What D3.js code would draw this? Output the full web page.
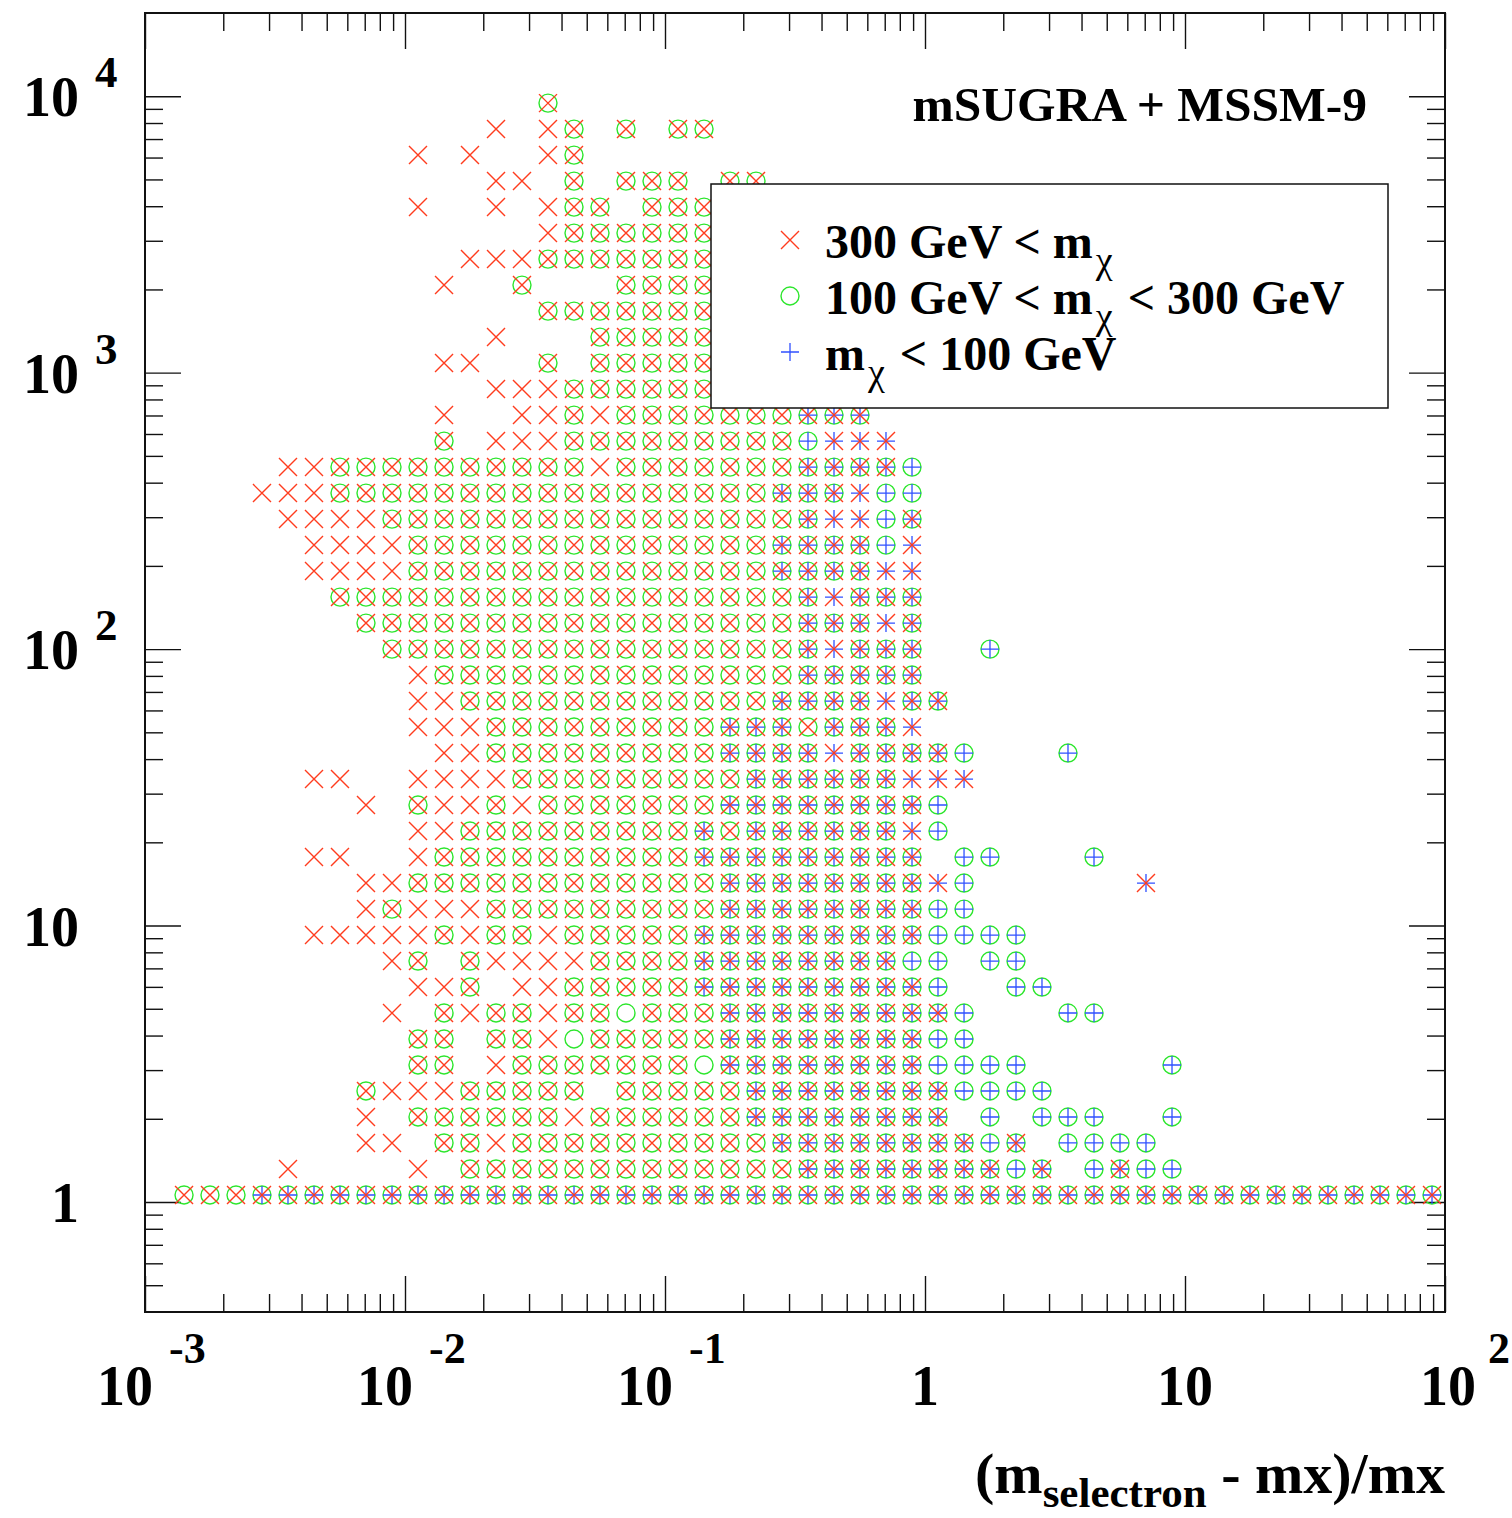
<!DOCTYPE html>
<html>
<head>
<meta charset="utf-8">
<script src="https://d3js.org/d3.v7.min.js"></script>
<style>
  body { margin: 0; background: #fff; }
  svg text { font-family: "Liberation Serif", "Times New Roman", serif; font-weight: bold; fill: #000; }
  .axis .tick line { stroke: #111; stroke-width: 1.4; }
  .axis .domain { display: none; }
</style>
</head>
<body>
<svg id="chart" width="1512" height="1518"></svg>
<script>
// bin centres of the scan (x: relative mass splitting, y: boost factor)
var xBins = [0.001413, 0.001778, 0.002239, 0.002818, 0.003548, 0.004467, 0.005623, 0.007079, 0.008913,
  0.01122, 0.01413, 0.01778, 0.02239, 0.02818, 0.03548, 0.04467, 0.05623, 0.07079, 0.08913,
  0.1122, 0.1413, 0.1778, 0.2239, 0.2818, 0.3548, 0.4467, 0.5623, 0.7079, 0.8913,
  1.122, 1.413, 1.778, 2.239, 2.818, 3.548, 4.467, 5.623, 7.079, 8.913,
  11.22, 14.13, 17.78, 22.39, 28.18, 35.48, 44.67, 56.23, 70.79, 89.13];
var yBins = [1.060, 1.316, 1.635, 2.030, 2.521, 3.130, 3.887, 4.827, 5.993, 7.441,
  9.241, 11.47, 14.25, 17.69, 21.97, 27.29, 33.88, 42.07, 52.24, 64.88,
  80.56, 100.0, 124.2, 154.2, 191.5, 237.8, 295.3, 366.7, 455.4, 565.6,
  702.3, 872.1, 1083, 1345, 1670, 2074, 2575, 3198, 3971, 4932,
  6124, 7604, 9441];

// one string per y bin, top row first, one char per x bin (spaces every 10 bins)
// x: m>300  o: 100<m<300  +: m<100  X: x+o  *: x++  O: o++  #: all three
var rows = [
  ".......... ....X",
  ".......... ..x.xX.X.X X",
  ".........x .x..xX",
  ".......... ..xx.X.XXX .XX",
  ".........x ..x.xXX.XX X",
  ".......... ....xXXXXX X",
  ".......... .xxxXXXXXX X",
  ".......... x..X...XXX X",
  ".......... ....XXXXXX X",
  ".......... ..x...XXXX X",
  ".......... xx..X.XXXX X",
  ".......... ..xxxXXXXX X",
  ".......... x..xxXxXXX XXXX###",
  ".......... X.xxxXXXXX XXXXO***",
  "....xxXXXX XXXXXXxXXX XXXX####O",
  "...xxxXXXX XXXXXXXXXX XXX###*OO",
  "....xxxxXX XXXXXXXXXX XXXX#**O#",
  ".....xxxxX XXXXXXXXXX XXX####O*",
  ".....xxxxX XXXXXXXXXX XXX####**",
  "......XXXX XXXXXXXXXX XXXX#*###",
  ".......XXX XXXXXXXXXX XXXX###*#",
  "........XX XXXXXXXXXX XXXX#*###. .O",
  ".........x XXXXXXXXXX XXXX#####",
  ".........x xXXXXXXXXX XXX####*##",
  ".........x xxXXXXXXXX X###X###*",
  ".......... xxXXXXXXXX X####*#### O...O",
  ".....xx..x xxxXXXXXXX XX######** *",
  ".......x.X xxXxXXXXXX X########O",
  ".........x xXXXXXXXXX #X######*O",
  ".....xx..x XXXXXXXXXX #########. OO...O",
  ".......xxX XXXXXXXXXX X########* O......*",
  ".......xXx xxXXXXXXXX X########O O",
  ".....xxxxx XxXXxXXXXX #########O OOO",
  "........xX .XxxxxXXXX ########OO .OO",
  ".........x xX.xxXXXXX #########O ..OO",
  "........x. XxXXxXXoXX X######### O...OO",
  ".........X X.XXxoXXXX X########O O",
  ".........X X.xXXXXXXX o########O OOO.....O",
  ".......Xxx xXXXXX.XXX XX######## OOOO",
  ".......x.X XXXXXxXXXX XX######## .O.OOO..O",
  ".......xx. XXxXXXXXXX XXX####### #O#.OOOO",
  "....x....x .XXXXXXXXX XXXX###### ##O#.O#OO",
  "XXX####### ########## ########## ########## #########"
];

var xLabelExps = [-3, -2, -1, 0, 1, 2];
var yLabelExps = [0, 1, 2, 3, 4];
var minorSteps = [2, 3, 4, 5, 6, 7, 8, 9];
var legendItems = [
  {code: "x", pre: "300 GeV < m", post: ""},
  {code: "o", pre: "100 GeV < m", post: " < 300 GeV"},
  {code: "+", pre: "m", post: " < 100 GeV"}
];
var red = "#ff3c1e", green = "#2de62d", blue = "#3050ff";

var margin = {top: 13, left: 145},
  width = 1300,
  height = 1299;

var x = d3.scaleLog().domain([1e-3, 1e2]).range([0, width]);
var y = d3.scaleLog().domain([0.4, 2e4]).range([height, 0]);

var svg = d3.select("#chart");
var g = svg.append("g")
  .attr("transform", "translate(" + margin.left + "," + margin.top + ")");

// ticks
var xMajor = xLabelExps.map(function(e) { return Math.pow(10, e); });
var xMinor = [];
xLabelExps.slice(0, -1).forEach(function(e) {
  minorSteps.forEach(function(m) { xMinor.push(m * Math.pow(10, e)); });
});
var yMajor = yLabelExps.map(function(e) { return Math.pow(10, e); });
var yMinor = [];
[-1, 0, 1, 2, 3, 4].forEach(function(e) {
  minorSteps.forEach(function(m) {
    var v = m * Math.pow(10, e);
    if (v > 0.4 && v < 2e4) yMinor.push(v);
  });
});

function addAxis(axis, tx, ty) {
  g.append("g").attr("class", "axis")
    .attr("transform", "translate(" + tx + "," + ty + ")")
    .call(axis);
}
addAxis(d3.axisBottom(x).tickValues(xMajor).tickSize(-36).tickFormat(""), 0, height);
addAxis(d3.axisBottom(x).tickValues(xMinor).tickSize(-18).tickFormat(""), 0, height);
addAxis(d3.axisTop(x).tickValues(xMajor).tickSize(-36).tickFormat(""), 0, 0);
addAxis(d3.axisTop(x).tickValues(xMinor).tickSize(-18).tickFormat(""), 0, 0);
addAxis(d3.axisLeft(y).tickValues(yMajor).tickSize(-36).tickFormat(""), 0, 0);
addAxis(d3.axisLeft(y).tickValues(yMinor).tickSize(-18).tickFormat(""), 0, 0);
addAxis(d3.axisRight(y).tickValues(yMajor).tickSize(-36).tickFormat(""), width, 0);
addAxis(d3.axisRight(y).tickValues(yMinor).tickSize(-18).tickFormat(""), width, 0);

// markers
var cells = [];
rows.forEach(function(row, i) {
  var codes = row.replace(/ /g, "");
  for (var c = 0; c < codes.length; c++) {
    if (codes[c] !== ".") {
      cells.push({x: xBins[c], y: yBins[yBins.length - 1 - i], code: codes[c]});
    }
  }
});

var s = 9;
function has(set) { return function(d) { return set.indexOf(d.code) >= 0; }; }

g.selectAll(".mk-o").data(cells.filter(has("oXO#"))).enter()
  .append("circle").attr("class", "mk-o")
  .attr("cx", function(d) { return x(d.x); })
  .attr("cy", function(d) { return y(d.y); })
  .attr("r", s)
  .attr("fill", "none").attr("stroke", green).attr("stroke-width", 1.4);

g.selectAll(".mk-p").data(cells.filter(has("+*O#"))).enter()
  .append("path").attr("class", "mk-p")
  .attr("d", function(d) {
    var cx = x(d.x), cy = y(d.y);
    return "M" + (cx - s) + "," + cy + "H" + (cx + s) + "M" + cx + "," + (cy - s) + "V" + (cy + s);
  })
  .attr("stroke", blue).attr("stroke-width", 1.3).attr("fill", "none");

g.selectAll(".mk-x").data(cells.filter(has("xX*#"))).enter()
  .append("path").attr("class", "mk-x")
  .attr("d", function(d) {
    var cx = x(d.x), cy = y(d.y);
    return "M" + (cx - s) + "," + (cy - s) + "L" + (cx + s) + "," + (cy + s) +
      "M" + (cx - s) + "," + (cy + s) + "L" + (cx + s) + "," + (cy - s);
  })
  .attr("stroke", red).attr("stroke-width", 1.4).attr("fill", "none");

// frame
g.append("rect")
  .attr("width", width).attr("height", height)
  .attr("fill", "none").attr("stroke", "#111").attr("stroke-width", 2);

// tick labels
var xl = svg.append("g");
xLabelExps.forEach(function(e) {
  var px = margin.left + x(Math.pow(10, e));
  if (e === 0 || e === 1) {
    xl.append("text").attr("x", px).attr("y", 1405)
      .attr("text-anchor", "middle").style("font-size", "56px")
      .text(e === 0 ? "1" : "10");
  } else {
    var t = xl.append("text").attr("x", px + (e > 0 ? -25 : -48)).attr("y", 1405)
      .style("font-size", "56px");
    t.append("tspan").text("10");
    t.append("tspan").attr("dx", e > 0 ? 12 : 16).attr("dy", -42).style("font-size", "44px").text(e);
  }
});

var yl = svg.append("g");
yLabelExps.forEach(function(e) {
  var py = margin.top + y(Math.pow(10, e));
  yl.append("text").attr("x", 79).attr("y", py + 20)
    .attr("text-anchor", "end").style("font-size", "56px")
    .text(e === 0 ? "1" : "10");
  if (e > 1) {
    yl.append("text").attr("x", 95).attr("y", py - 9)
      .style("font-size", "45px").text(e);
  }
});

// axis title
var xt = svg.append("text").attr("x", 1445).attr("y", 1493)
  .attr("text-anchor", "end").style("font-size", "58px");
xt.append("tspan").text("(m");
xt.append("tspan").attr("dy", 14).style("font-size", "43px").text("selectron");
xt.append("tspan").attr("dy", -14).text(" - mx)/mx");

// title
svg.append("text").attr("x", 1367).attr("y", 121)
  .attr("text-anchor", "end").style("font-size", "49.5px")
  .text("mSUGRA + MSSM-9");

// legend
var leg = svg.append("g");
leg.append("rect")
  .attr("x", 711).attr("y", 184).attr("width", 677).attr("height", 224)
  .attr("fill", "#fff").attr("stroke", "#111").attr("stroke-width", 1.5);

legendItems.forEach(function(d, i) {
  var cy = 240 + i * 56, cx = 790;
  if (d.code === "x") {
    leg.append("path")
      .attr("d", "M" + (cx - s) + "," + (cy - s) + "L" + (cx + s) + "," + (cy + s) +
        "M" + (cx - s) + "," + (cy + s) + "L" + (cx + s) + "," + (cy - s))
      .attr("stroke", red).attr("stroke-width", 1.4).attr("fill", "none");
  } else if (d.code === "o") {
    leg.append("circle").attr("cx", cx).attr("cy", cy).attr("r", s)
      .attr("fill", "none").attr("stroke", green).attr("stroke-width", 1.4);
  } else {
    leg.append("path")
      .attr("d", "M" + (cx - s) + "," + cy + "H" + (cx + s) + "M" + cx + "," + (cy - s) + "V" + (cy + s))
      .attr("stroke", blue).attr("stroke-width", 1.3).attr("fill", "none");
  }
  var t = leg.append("text").attr("x", 825).attr("y", cy + 18).style("font-size", "48px");
  t.append("tspan").text(d.pre);
  t.append("tspan").attr("dy", 15).attr("dx", 3)
    .style("font-size", "38px").style("font-weight", "normal").text("\u03C7");
  if (d.post) t.append("tspan").attr("dy", -15).attr("dx", 3).text(d.post);
});
</script>
</body>
</html>
